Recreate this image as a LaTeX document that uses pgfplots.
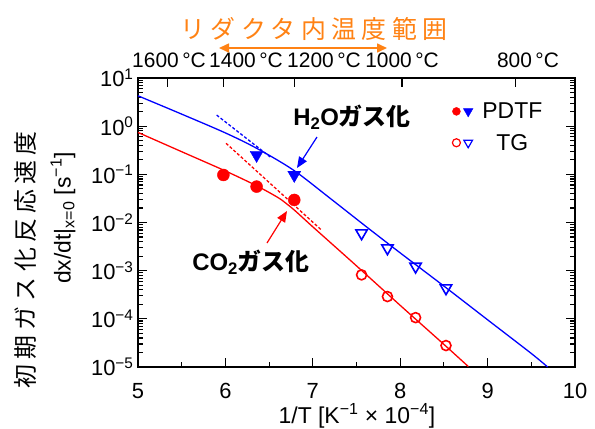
\documentclass[border=0pt]{standalone}
\usepackage{fontspec}
\setmainfont{Liberation Sans}
\newfontfamily\cjk{Noto Sans CJK JP}
\newfontfamily\cjkwide{Noto Sans CJK JP}[LetterSpace=22]
\usepackage{pgfplots}
\pgfplotsset{compat=1.18}
\usetikzlibrary{arrows.meta}
\definecolor{myorange}{RGB}{255,130,20}
\definecolor{myblue}{RGB}{0,0,255}
\definecolor{myred}{RGB}{255,0,0}
\newcommand{\fs}[1]{\fontsize{#1}{#1}\selectfont}

\pgfplotstableread{
x y
5.0 4.27
5.5 1.778
6.0 0.724
6.358 0.347
6.777 0.123
7.2 0.0316
7.6 8.51e-3
8.0 2.34e-3
8.5 4.79e-4
9.0 9.55e-5
9.5 1.91e-5
9.687 1.0e-5
}\bluecurve

\pgfplotstableread{
x y
5.0 0.741
5.5 0.295
6.0 0.1175
6.36 0.0575
6.6 0.0331
6.7 0.0245
6.8 0.01738
7.0 8.13e-3
7.5 1.259e-3
8.0 1.905e-4
8.5 2.95e-5
8.78 1.02e-5
}\redcurve

\pgfplotstableread{
x y
5.90 1.70
6.52 0.224
}\bluedot

\pgfplotstableread{
x y
6.007 0.4416
7.10 6.95e-3
}\reddot

\pgfplotstableread{
x y
6.357 0.252
6.788 0.097
}\pdtfhtwo

\pgfplotstableread{
x y
5.977 0.097
6.357 0.0556
6.788 0.0294
}\pdtfco

\pgfplotstableread{
x y
7.558 6.0e-3
7.854 2.93e-3
8.176 1.22e-3
8.524 4.33e-4
}\tghtwo

\pgfplotstableread{
x y
7.558 8.18e-4
7.854 2.9e-4
8.176 1.06e-4
8.524 2.79e-5
}\tgco

\begin{document}
\begin{tikzpicture}[x=1bp,y=1bp]
\begin{axis}[
  name=ax, at={(0,0)}, anchor=south west,
  scale only axis, width=437bp, height=289bp,
  xmin=5, xmax=10, ymode=log, ymin=1e-5, ymax=10,
  clip=false,
  xtick={5,6,7,8,9,10}, xticklabels={5,6,7,8,9,10},
  minor x tick num=1,
  xtick pos=bottom, ytick pos=both,
  ytick={1e-5,1e-4,1e-3,1e-2,1e-1,1,10},
  minor ytick={2e-5,3e-5,4e-5,5e-5,6e-5,7e-5,8e-5,9e-5,
    2e-4,3e-4,4e-4,5e-4,6e-4,7e-4,8e-4,9e-4,
    2e-3,3e-3,4e-3,5e-3,6e-3,7e-3,8e-3,9e-3,
    2e-2,3e-2,4e-2,5e-2,6e-2,7e-2,8e-2,9e-2,
    0.2,0.3,0.4,0.5,0.6,0.7,0.8,0.9,
    2,3,4,5,6,7,8,9},
  yticklabels={10\textsuperscript{−5},10\textsuperscript{−4},10\textsuperscript{−3},10\textsuperscript{−2},10\textsuperscript{−1},10\textsuperscript{0},10\textsuperscript{1}},
  tick align=inside,
  major tick length=9bp, minor tick length=5bp,
  every tick/.style={black, line width=1.1bp},
  axis line style={black, line width=1.3bp},
  ticklabel style={font=\fs{22}},
  xticklabel style={yshift=-13bp},
  yticklabel style={xshift=-1bp},
  legend columns=2,
  legend cell align=left,
  legend style={draw=none, fill=none, font=\fs{23}, at={(0.824,0.83)}, anchor=center,
    row sep=11bp, column sep=0bp, nodes={inner sep=1.5bp}},
]
\addplot[myblue, line width=1.3bp, smooth, forget plot] table {\bluecurve};
\addplot[myred, line width=1.3bp, smooth, forget plot] table {\redcurve};
\addplot[myblue, line width=1.3bp, dash pattern=on 3bp off 2bp, forget plot] table {\bluedot};
\addplot[myred, line width=1.3bp, dash pattern=on 3bp off 2bp, forget plot] table {\reddot};
\addplot[only marks, mark=*, mark size=6bp, myred, forget plot] table {\pdtfco};
\addplot[only marks, mark=triangle*, mark size=7.5bp, myblue, mark options={rotate=180}, forget plot] table {\pdtfhtwo};
\addplot[only marks, mark=o, mark size=5bp, myred, mark options={line width=1.6bp}, forget plot] table {\tgco};
\addplot[only marks, mark=triangle, mark size=6.5bp, myblue, mark options={rotate=180, line width=1.6bp}, forget plot] table {\tghtwo};

\addlegendimage{only marks, mark=*, mark size=4bp, myred}
\addlegendentry{}
\addlegendimage{only marks, mark=triangle*, mark size=5.5bp, myblue, mark options={rotate=180}}
\addlegendentry{\hspace{8bp}PDTF}
\addlegendimage{only marks, mark=o, mark size=4bp, myred, mark options={line width=1.2bp}}
\addlegendentry{}
\addlegendimage{only marks, mark=triangle, mark size=5bp, myblue, mark options={rotate=180, line width=1.2bp}}
\addlegendentry{\hspace{22bp}TG}
\end{axis}

\begin{axis}[
  at={(0,0)}, anchor=south west,
  scale only axis, width=437bp, height=289bp,
  xmin=5, xmax=10, ymin=0, ymax=1,
  hide y axis, axis x line*=top,
  xtick={5.339,5.977,6.788,8.02,9.318}, xticklabels={},
  tick align=inside, major tick length=9bp,
  every tick/.style={black, line width=1.1bp},
  axis line style={black, line width=1.3bp, -},
]
\addplot[draw=none, forget plot] coordinates {(5,0.5) (10,0.5)};
\end{axis}

% top temperature labels
\node[font=\fs{21}] at (31,307) {1600\,°C};
\node[font=\fs{21}] at (108,307) {1400\,°C};
\node[font=\fs{21}] at (186,307) {1200\,°C};
\node[font=\fs{21}] at (264,307) {1000\,°C};
\node[font=\fs{21}] at (390,307) {800\,°C};

% orange range
\node[font=\fs{25}\cjkwide, text=myorange] at (176,338) {リダクタ内温度範囲};
\draw[myorange, line width=1.6bp, {Triangle[length=10bp,width=9bp]}-{Triangle[length=10bp,width=9bp]}] (81,319) -- (249,319);

% annotations
\node[font=\fs{24}\bfseries] at (214,250) {H\textsubscript{2}O{\cjk\bfseries ガス化}};
\node[font=\fs{24}\bfseries] at (113,105) {CO\textsubscript{2}{\cjk\bfseries ガス化}};
\draw[myblue, line width=1.2bp, -{Triangle[length=11bp,width=9bp]}] (179,230) -- (159,199);
\draw[myred, line width=1.2bp, -{Triangle[length=11bp,width=9bp]}] (129,124) -- (149,156);

% axis labels
\node[font=\fs{24}\cjkwide, rotate=90] at (-113,107) {初期ガス化反応速度};
\node[font=\fs{23}, rotate=90] at (-75,149) {dx/dt|\textsubscript{x=0} [s\textsuperscript{−1}]};
\node[font=\fs{23}] at (219,-49) {1/T [K\textsuperscript{−1} × 10\textsuperscript{−4}]};

\pgfresetboundingbox
\path[use as bounding box] (-138,-61) rectangle (457,367);
\end{tikzpicture}
\end{document}
